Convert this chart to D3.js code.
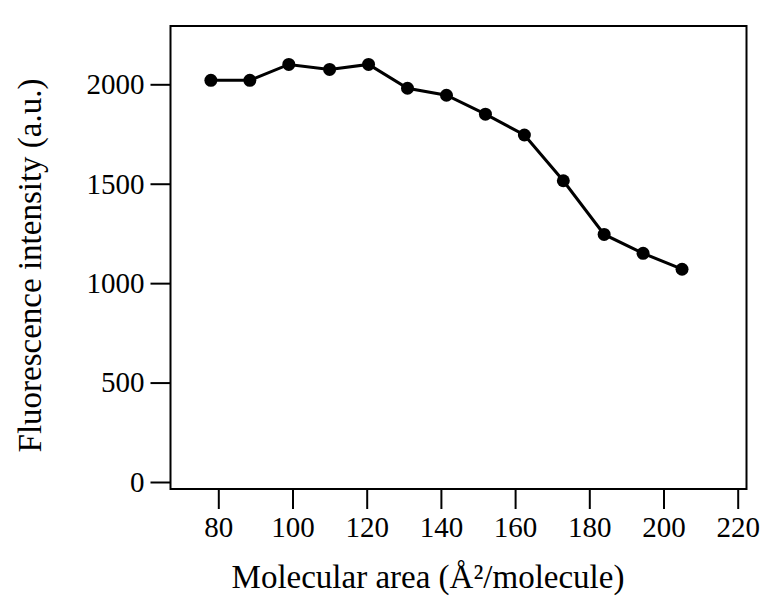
<!DOCTYPE html>
<html>
<head>
<meta charset="utf-8">
<script src="https://cdn.jsdelivr.net/npm/d3@7"></script>
<style>
  html, body { margin: 0; padding: 0; background: #fff; }
  svg { display: block; }
  text { font-family: "Liberation Serif", "Times New Roman", serif; fill: #000; }
</style>
</head>
<body>
<svg id="chart" width="765" height="607"></svg>
<script>
// Data
const molecularArea = [78, 88.5, 99, 110, 120.5, 131, 141.5, 152, 162.5, 173, 184, 194.5, 205];
const fluorescence  = [2020, 2020, 2100, 2075, 2100, 1980, 1945, 1850, 1745, 1515, 1245, 1150, 1070];
const xTicks = [80, 100, 120, 140, 160, 180, 200, 220];
const yTicks = [0, 500, 1000, 1500, 2000];
const xTitle = "Molecular area (Å²/molecule)";
const yTitle = "Fluorescence intensity (a.u.)";

const svg = d3.select("#chart");
const frame = { left: 170.5, right: 746.5, top: 26, bottom: 489 };

const x = d3.scaleLinear().domain([80, 220]).range([218.3, 737.7]);
const y = d3.scaleLinear().domain([0, 2000]).range([482, 84.3]);

// frame
svg.append("rect")
  .attr("x", frame.left).attr("y", frame.top)
  .attr("width", frame.right - frame.left)
  .attr("height", frame.bottom - frame.top)
  .attr("fill", "none").attr("stroke", "#000").attr("stroke-width", 2);

// x axis
const xAxis = d3.axisBottom(x).tickValues(xTicks).tickFormat(d3.format("d"))
  .tickSize(20).tickPadding(7).tickSizeOuter(0);
const gx = svg.append("g").attr("transform", `translate(0,${frame.bottom})`).call(xAxis);
gx.select(".domain").remove();
gx.selectAll(".tick line").attr("stroke", "#000").attr("stroke-width", 2);
gx.selectAll(".tick text").attr("font-size", 29).attr("font-family", "Liberation Serif");

// y axis
const yAxis = d3.axisLeft(y).tickValues(yTicks).tickFormat(d3.format("d"))
  .tickSize(20).tickPadding(6).tickSizeOuter(0);
const gy = svg.append("g").attr("transform", `translate(${frame.left},0)`).call(yAxis);
gy.select(".domain").remove();
gy.selectAll(".tick line").attr("stroke", "#000").attr("stroke-width", 2);
gy.selectAll(".tick text").attr("font-size", 29).attr("font-family", "Liberation Serif");

// line
const pts = molecularArea.map((d, i) => [d, fluorescence[i]]);
svg.append("path")
  .datum(pts)
  .attr("fill", "none").attr("stroke", "#000").attr("stroke-width", 3)
  .attr("d", d3.line().x(d => x(d[0])).y(d => y(d[1])));

svg.selectAll("circle.pt").data(pts).enter().append("circle")
  .attr("class", "pt")
  .attr("cx", d => x(d[0])).attr("cy", d => y(d[1])).attr("r", 6.5)
  .attr("fill", "#000");

// titles
svg.append("text")
  .attr("x", 428).attr("y", 588)
  .attr("text-anchor", "middle").attr("font-size", 33)
  .text(xTitle);

svg.append("text")
  .attr("transform", `translate(41,${(frame.top + frame.bottom) / 2 + 8}) rotate(-90)`)
  .attr("text-anchor", "middle").attr("font-size", 33)
  .text(yTitle);
</script>
</body>
</html>
